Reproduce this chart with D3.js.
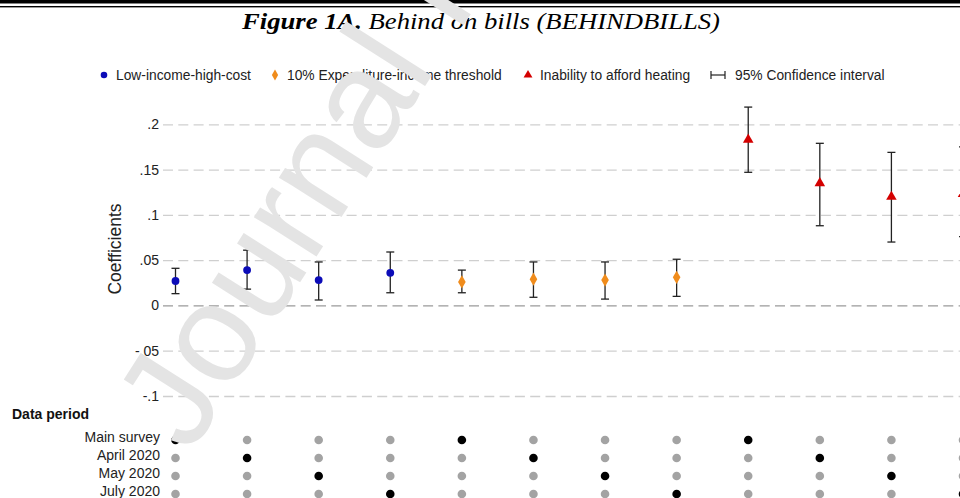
<!DOCTYPE html>
<html>
<head>
<meta charset="utf-8">
<script src="https://cdn.jsdelivr.net/npm/d3@7"></script>
<style>
  body { margin: 0; background: #fff; }
  svg { display: block; font-family: "Liberation Sans", Arial, sans-serif; }
</style>
</head>
<body>
<svg id="chart"></svg>
<script>
const WIDTH = 960;
const HEIGHT = 498;

// Estimates, one per column (left to right).
const measures = [
  'Low-income-high-cost', 'Low-income-high-cost', 'Low-income-high-cost', 'Low-income-high-cost',
  '10% Expenditure-income threshold', '10% Expenditure-income threshold',
  '10% Expenditure-income threshold', '10% Expenditure-income threshold',
  'Inability to afford heating', 'Inability to afford heating',
  'Inability to afford heating', 'Inability to afford heating'
];
const coefs = [0.027, 0.039, 0.028, 0.036, 0.026, 0.029, 0.028, 0.031, 0.183, 0.135, 0.120, 0.123];
const ciLow = [0.013, 0.018, 0.006, 0.014, 0.014, 0.009, 0.007, 0.010, 0.147, 0.088, 0.070, 0.076];
const ciHigh = [0.041, 0.061, 0.048, 0.059, 0.039, 0.048, 0.048, 0.051, 0.219, 0.179, 0.169, 0.175];
// Which data period each column uses (index into periods).
const periodOf = [0, 1, 2, 3, 0, 1, 2, 3, 0, 1, 2, 3];
const periods = ['Main survey', 'April 2020', 'May 2020', 'July 2020'];

const yTicks = [-0.1, -0.05, 0, 0.05, 0.1, 0.15, 0.2];
const yTickLabels = ['-.1', '-.05', '0', '.05', '.1', '.15', '.2'];

const legendItems = ['Low-income-high-cost', '10% Expenditure-income threshold',
  'Inability to afford heating', '95% Confidence interval'];

const colors = {
  'Low-income-high-cost': '#0c0cb8',
  '10% Expenditure-income threshold': '#f08c1c',
  'Inability to afford heating': '#d40000'
};
const symbols = {
  'Low-income-high-cost': d3.symbolCircle,
  '10% Expenditure-income threshold': d3.symbolDiamond,
  'Inability to afford heating': d3.symbolTriangle
};

const svg = d3.select('#chart')
  .attr('width', WIDTH)
  .attr('height', HEIGHT)
  .attr('viewBox', `0 0 ${WIDTH} ${HEIGHT}`);

// Double rule at the top of the page.
svg.append('rect').attr('x', 0).attr('y', 0).attr('width', WIDTH).attr('height', 3.5).attr('fill', '#000');
svg.append('rect').attr('x', 0).attr('y', 6).attr('width', WIDTH).attr('height', 1.4).attr('fill', '#000');

// Title.
const title = svg.append('text')
  .attr('x', 242)
  .attr('y', 29)
  .attr('textLength', 478)
  .attr('lengthAdjust', 'spacingAndGlyphs')
  .style('font-family', '"Liberation Serif", "Times New Roman", serif')
  .style('font-size', '24px')
  .style('font-style', 'italic')
  .attr('fill', '#000');
title.append('tspan').style('font-weight', 'bold').text('Figure 1A.');
title.append('tspan').text(' Behind on bills (BEHINDBILLS)');

const x = d3.scalePoint()
  .domain(d3.range(coefs.length))
  .range([175.5, 963]);

const y = d3.scaleLinear()
  .domain([-0.1, 0.2])
  .range([396, 124.3]);

// Y axis with dashed grid lines.
const yAxis = d3.axisLeft(y)
  .tickValues(yTicks)
  .tickFormat((d, i) => yTickLabels[i])
  .tickSizeInner(-(WIDTH - 163))
  .tickSizeOuter(0)
  .tickPadding(4);

const gy = svg.append('g')
  .attr('transform', 'translate(163,0)')
  .call(yAxis);
gy.select('.domain').remove();
gy.selectAll('.tick line')
  .attr('stroke', d => (d === 0 ? '#9a9a9a' : '#cfcfcf'))
  .attr('stroke-width', 1.3)
  .attr('stroke-dasharray', '10,5.3');
gy.selectAll('.tick text')
  .style('font-size', '14px')
  .attr('fill', '#222');

svg.append('text')
  .attr('transform', 'translate(121,249) rotate(-90)')
  .attr('text-anchor', 'middle')
  .style('font-size', '17.5px')
  .attr('fill', '#222')
  .text('Coefficients');

// Confidence intervals.
const ci = svg.append('g')
  .attr('stroke', '#222')
  .attr('stroke-width', 1.3)
  .attr('fill', 'none');
coefs.forEach((c, i) => {
  const cx = x(i);
  ci.append('line').attr('x1', cx).attr('x2', cx).attr('y1', y(ciLow[i])).attr('y2', y(ciHigh[i]));
  ci.append('line').attr('x1', cx - 4).attr('x2', cx + 4).attr('y1', y(ciLow[i])).attr('y2', y(ciLow[i]));
  ci.append('line').attr('x1', cx - 4).attr('x2', cx + 4).attr('y1', y(ciHigh[i])).attr('y2', y(ciHigh[i]));
});

// Point estimates.
const symbolSize = {
  'Low-income-high-cost': 48,
  '10% Expenditure-income threshold': 50,
  'Inability to afford heating': 48
};
svg.append('g')
  .selectAll('path')
  .data(coefs)
  .join('path')
  .attr('transform', (d, i) => `translate(${x(i)},${y(d)})`)
  .attr('d', (d, i) => d3.symbol(symbols[measures[i]], symbolSize[measures[i]])())
  .attr('fill', (d, i) => colors[measures[i]]);

// Legend.
const legendY = 75;
const legendX = [104, 275, 528, 718];
const legend = svg.append('g').style('font-size', '13.8px');
legendItems.forEach((name, i) => {
  const lx = legendX[i];
  if (symbols[name]) {
    legend.append('path')
      .attr('transform', `translate(${lx},${legendY})`)
      .attr('d', d3.symbol(symbols[name], 34)())
      .attr('fill', colors[name]);
  } else {
    const lg = legend.append('g').attr('stroke', '#222').attr('stroke-width', 1.2);
    lg.append('line').attr('x1', lx - 7).attr('x2', lx + 7).attr('y1', legendY).attr('y2', legendY);
    lg.append('line').attr('x1', lx - 7).attr('x2', lx - 7).attr('y1', legendY - 4).attr('y2', legendY + 4);
    lg.append('line').attr('x1', lx + 7).attr('x2', lx + 7).attr('y1', legendY - 4).attr('y2', legendY + 4);
  }
  legend.append('text')
    .attr('x', lx + (i === 3 ? 17 : 12))
    .attr('y', legendY + 5)
    .attr('fill', '#222')
    .text(name);
});

// Data period panel.
svg.append('text')
  .attr('x', 12)
  .attr('y', 419)
  .style('font-size', '14px')
  .style('font-weight', 'bold')
  .attr('fill', '#111')
  .text('Data period');

const rowY = d3.scalePoint()
  .domain(d3.range(periods.length))
  .range([440, 494]);

svg.append('g')
  .selectAll('text')
  .data(periods)
  .join('text')
  .attr('x', 160)
  .attr('y', (d, i) => rowY(i) + 2)
  .attr('text-anchor', 'end')
  .style('font-size', '14px')
  .attr('fill', '#222')
  .text(d => d);

const dots = [];
coefs.forEach((c, i) => {
  periods.forEach((p, j) => dots.push({col: i, row: j, on: periodOf[i] === j}));
});
svg.append('g')
  .selectAll('circle')
  .data(dots)
  .join('circle')
  .attr('cx', d => x(d.col))
  .attr('cy', d => rowY(d.row))
  .attr('r', 4.3)
  .attr('fill', d => (d.on ? '#000' : '#a3a3a3'));

// "Journal Pre-proof" watermark laid over the figure.
svg.append('text')
  .attr('transform', 'translate(190,455) rotate(-57.5)')
  .style('font-size', '140px')
  .attr('fill', '#e4e4e4')
  .text('Journal Pre-proof');
</script>
</body>
</html>
